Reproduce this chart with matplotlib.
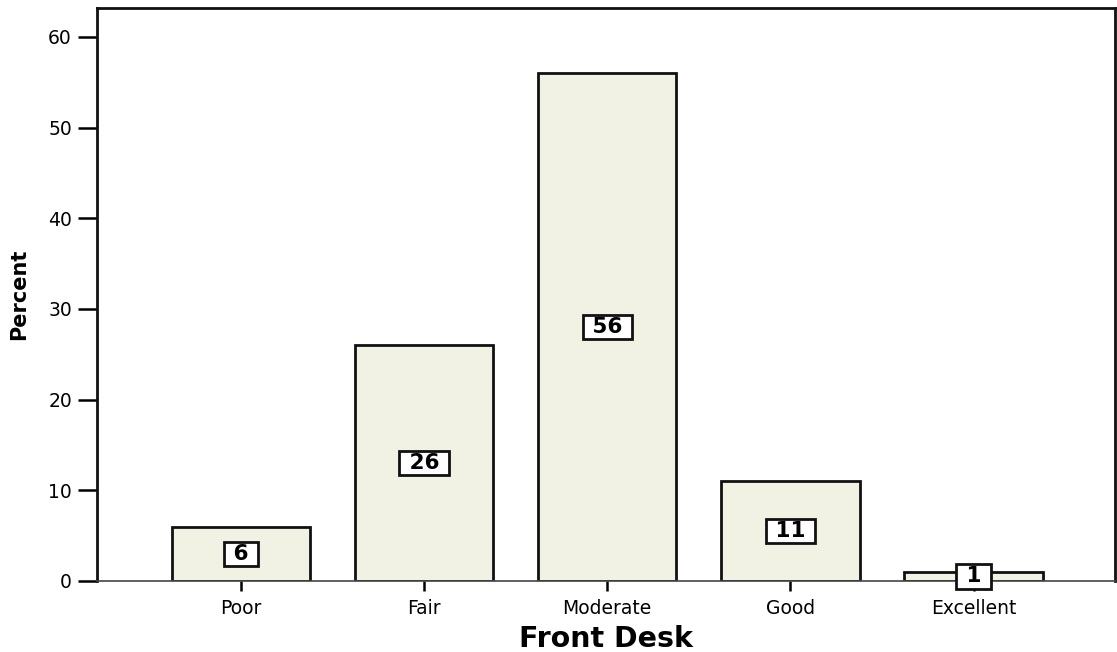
import matplotlib
matplotlib.use("Agg")
import matplotlib.pyplot as plt

categories = ["Poor", "Fair", "Moderate", "Good", "Excellent"]
percent = [6, 26, 56, 11, 1]
yticks = [0, 10, 20, 30, 40, 50, 60]

plt.rcParams['font.family'] = ['DejaVu Sans']

fig = plt.figure(figsize=(11.17, 6.52), dpi=100)
ax = fig.add_axes([0.0868, 0.109, 0.911, 0.879])

x = list(range(len(categories)))
ax.bar(x, percent, width=0.755, color='#f1f1e4', edgecolor='#111111', linewidth=2)

# value boxes in the middle of each bar
for xi, v in zip(x, percent):
    ax.text(xi, v / 2, " %d " % v, ha='center', va='center', fontsize=15.5,
            fontweight='heavy',
            bbox=dict(boxstyle='square,pad=0.1', facecolor='white',
                      edgecolor='#111111', linewidth=2))

ax.set_xlim(-0.786, 4.77)
ax.set_ylim(0, 63.2)
ax.set_xticks(x)
ax.set_xticklabels(categories, fontsize=13.5)
ax.set_yticks(yticks)
ax.tick_params(axis='y', length=14, width=1.8, labelsize=13.5, pad=4)
ax.tick_params(axis='x', length=7, width=1.8, pad=6)

for side in ['left', 'top', 'right']:
    ax.spines[side].set_linewidth(2)
    ax.spines[side].set_color('#111111')
ax.spines['bottom'].set_linewidth(1.2)
ax.spines['bottom'].set_color('#444444')

ax.set_xlabel("Front Desk", fontsize=20.5, fontweight='bold', labelpad=5)
ax.set_ylabel("Percent", fontsize=15, fontweight='bold', labelpad=14)

fig.savefig("out.png", dpi=100)
